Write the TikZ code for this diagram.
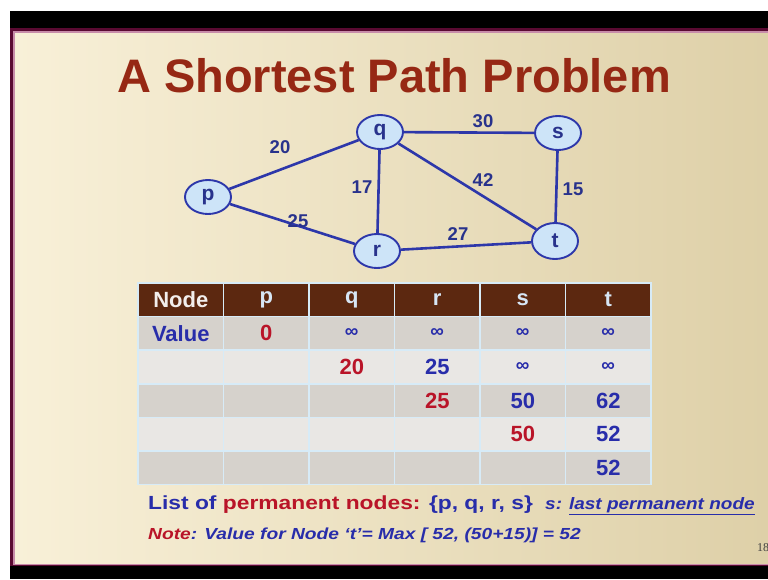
\documentclass[tikz,border=0pt]{standalone}
\usepackage{fontspec}
\usepackage{graphicx}
\setmainfont{Liberation Sans}
\newfontfamily\serifnum{Liberation Serif}
\usetikzlibrary{shapes.geometric}
\pgfdeclarelayer{bg}\pgfdeclarelayer{edges}
\pgfsetlayers{bg,edges,main}
\definecolor{slidecream}{RGB}{248,240,216}
\definecolor{slidetan}{RGB}{222,208,168}
\definecolor{framec}{RGB}{90,10,50}
\definecolor{framepink}{RGB}{200,140,170}
\definecolor{titlered}{RGB}{150,40,20}
\definecolor{gblue}{RGB}{45,55,170}
\definecolor{nodefill}{RGB}{205,228,248}
\definecolor{lblblue}{RGB}{40,50,140}
\definecolor{hdrbrown}{RGB}{92,40,16}
\definecolor{hdrtext}{RGB}{215,230,245}
\definecolor{rowdark}{RGB}{214,210,204}
\definecolor{rowlight}{RGB}{233,231,228}
\definecolor{sepblue}{RGB}{215,235,247}
\definecolor{txtblue}{RGB}{40,45,170}
\definecolor{txtred}{RGB}{185,20,40}
\newcommand\infsym{{\fontsize{19}{19}\selectfont ∞}}
\tikzset{
  gnode/.style={ellipse, draw=gblue, fill=nodefill, line width=1.9pt,
    minimum width=46pt, minimum height=34pt, inner sep=0pt,
    font=\fontsize{21}{21}\bfseries\selectfont, text=lblblue},
  edge/.style={draw=gblue, line width=2.6pt},
  elabel/.style={inner sep=0pt, font=\fontsize{18.5}{18.5}\bfseries\selectfont, text=lblblue},
  cell/.style={rectangle, minimum width=85.5pt, minimum height=33.6pt,
    draw=sepblue, line width=1.5pt, inner sep=0pt,
    font=\fontsize{22}{22}\bfseries\selectfont, text=txtblue},
}
\begin{document}
\begin{tikzpicture}[x=1pt,y=-1pt]
\useasboundingbox (0,0) rectangle (768,579);
\begin{pgfonlayer}{bg}
\fill[white] (0,0) rectangle (768,579);
\fill[black] (10,11) rectangle (768,579);
\fill[framec] (10,28) rectangle (768,566);
\fill[framepink] (13,31) rectangle (768,564.5);
\shade[left color=slidecream, right color=slidetan] (15,33) rectangle (768,563);
\end{pgfonlayer}
% title
\node[anchor=base, inner sep=0pt, text=titlered, font=\fontsize{47}{47}\bfseries\selectfont] (title) at (394,92) {A Shortest Path Problem};
% graph nodes
\node[gnode] (p) at (208,197) {p};
\node[gnode] (q) at (380,132) {q};
\node[gnode] (s) at (558,133) {s};
\node[gnode] (r) at (377,251) {r};
\node[gnode, minimum height=36pt] (t) at (555,241) {t};
\begin{pgfonlayer}{edges}
\draw[edge] (p) -- (q);
\draw[edge] (p) -- (r);
\draw[edge] (q) -- (s);
\draw[edge] (q) -- (r);
\draw[edge] (q) -- (t);
\draw[edge] (s) -- (t);
\draw[edge] (r) -- (t);
\end{pgfonlayer}
\node[elabel] (l20) at (280,147) {20};
\node[elabel] (l30) at (483,121) {30};
\node[elabel] (l17) at (362,187) {17};
\node[elabel] (l42) at (483,180) {42};
\node[elabel] (l15) at (573,189) {15};
\node[elabel] (l25) at (298,221) {25};
\node[elabel] (l27) at (458,234) {27};
% table header
\foreach \j/\t in {0/{\color{white!92!hdrbrown}Node},1/p,2/q,3/r,4/s,5/t}
  \node[cell, fill=hdrbrown, text=hdrtext] (c0\j) at ({138+85.5*(\j+0.5)},299.8) {\t};
\foreach \j/\t in {0/Value,1/{\color{txtred}0},2/\infsym,3/\infsym,4/\infsym,5/\infsym}
  \node[cell, fill=rowdark] (c1\j) at ({138+85.5*(\j+0.5)},333.4) {\t};
\foreach \j/\t in {0/{},1/{},2/{\color{txtred}20},3/25,4/\infsym,5/\infsym}
  \node[cell, fill=rowlight] (c2\j) at ({138+85.5*(\j+0.5)},367.0) {\t};
\foreach \j/\t in {0/{},1/{},2/{},3/{\color{txtred}25},4/50,5/62}
  \node[cell, fill=rowdark] (c3\j) at ({138+85.5*(\j+0.5)},400.6) {\t};
\foreach \j/\t in {0/{},1/{},2/{},3/{},4/{\color{txtred}50},5/52}
  \node[cell, fill=rowlight] (c4\j) at ({138+85.5*(\j+0.5)},434.2) {\t};
\foreach \j/\t in {0/{},1/{},2/{},3/{},4/{},5/52}
  \node[cell, fill=rowdark] (c5\j) at ({138+85.5*(\j+0.5)},467.8) {\t};
% bottom text
\node[anchor=base west, inner sep=0pt, text=txtblue, font=\fontsize{19}{19}\bfseries\selectfont] (list) at (148,509)
  {\scalebox{1.2}[1]{List of \textcolor{txtred}{permanent nodes:} \{p, q, r, s\}}};
\node[anchor=base west, inner sep=0pt, text=txtblue, font=\fontsize{16.5}{16.5}\bfseries\itshape\selectfont] (last) at (545,509)
  {\scalebox{1.15}[1]{s: \underline{last permanent node}}};
\node[anchor=base west, inner sep=0pt, text=txtblue, font=\fontsize{16}{16}\bfseries\itshape\selectfont] (note) at (148,539)
  {\scalebox{1.2}[1]{\textcolor{txtred}{Note}: Value for Node ‘t’= Max [ 52, (50+15)] = 52}};
\node[anchor=base west, inner sep=0pt, text=black!75, font=\serifnum\fontsize{12}{12}\selectfont] (pg) at (757,551) {18};
\end{tikzpicture}
\end{document}
